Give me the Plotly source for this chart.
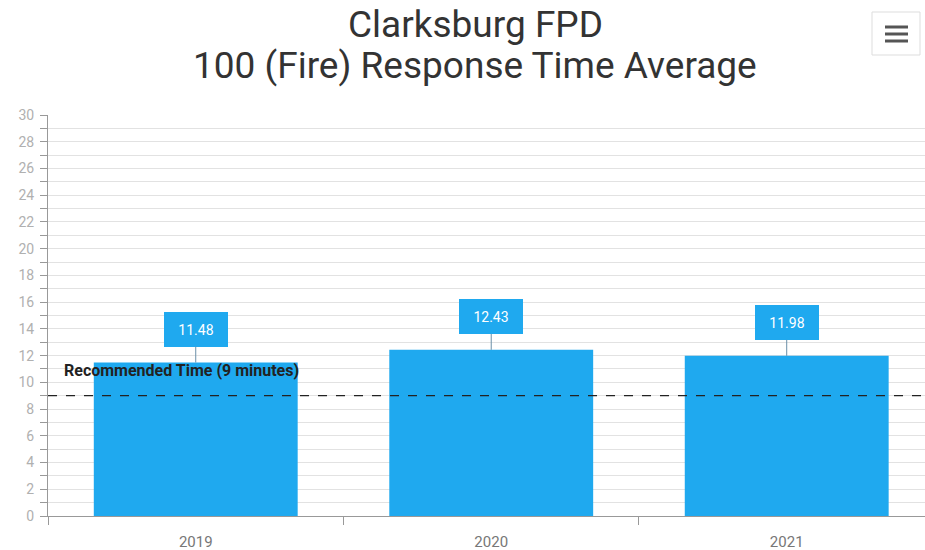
import plotly.graph_objects as go

years = ["2019", "2020", "2021"]
avg_time = [11.48, 12.43, 11.98]
recommended = 9
title_lines = ["Clarksburg FPD", "100 (Fire) Response Time Average"]
rec_label = "Recommended Time (9 minutes)"

BAR = "#1fa9ef"
L, R, T, B, W, H = 48, 0, 115, 34, 925, 550
PW, PH = W - L - R, H - T - B

def px(x):
    return (x - L) / PW

def py(y):
    return (H - B - y) / PH

fig = go.Figure()
fig.add_trace(go.Bar(x=years, y=avg_time, marker=dict(color=BAR, line=dict(width=0)),
                     width=0.69, hoverinfo="x+y"))

for i, v in enumerate(avg_time):
    fig.add_annotation(x=i, y=v, text=f"{v:.2f}", showarrow=True, arrowhead=0,
                       arrowwidth=1, arrowcolor="#6a8fa8", ax=0, ay=-33,
                       bgcolor=BAR, bordercolor=BAR, borderwidth=1, borderpad=3,
                       width=56, height=27,
                       font=dict(family="Roboto", size=14, color="white"))

fig.add_shape(type="line", xref="paper", x0=0, x1=1, yref="y", y0=recommended, y1=recommended,
              line=dict(color="#222", width=1.3, dash="dash"))
fig.add_annotation(xref="paper", x=px(62), xanchor="left", yref="y", y=10.85, yanchor="middle",
                   text=rec_label, showarrow=False,
                   font=dict(family="Roboto", size=16, color="#222", weight="bold"))

# title as two lines
fig.add_annotation(xref="paper", yref="paper", x=px(475), y=py(24), xanchor="center", yanchor="middle",
                   text=title_lines[0], showarrow=False,
                   font=dict(family="Roboto", size=37, color="#333"))
fig.add_annotation(xref="paper", yref="paper", x=px(475), y=py(66), xanchor="center", yanchor="middle",
                   text=title_lines[1], showarrow=False,
                   font=dict(family="Roboto", size=37, color="#333"))

# menu button
fig.add_shape(type="rect", xref="paper", yref="paper", x0=px(872), x1=px(920),
              y0=py(12), y1=py(55), line=dict(color="#dddddd", width=1),
              fillcolor="white", layer="above")
for yy in [27, 34, 41]:
    fig.add_shape(type="line", xref="paper", yref="paper", x0=px(885), x1=px(908),
                  y0=py(yy), y1=py(yy), line=dict(color="#555", width=3))

fig.update_layout(
    width=W, height=H, autosize=False,
    margin=dict(l=L, r=R, t=T, b=B),
    paper_bgcolor="white", plot_bgcolor="white",
    showlegend=False,
    xaxis=dict(type="category", range=[-0.5, 2.468], showgrid=False,
               showline=True, linecolor="#999", linewidth=1,
               ticks="outside", tickson="boundaries", ticklen=8, tickcolor="#999",
               ticklabelstandoff=12,
               tickfont=dict(family="Roboto", size=15, color="#777")),
    yaxis=dict(range=[0, 30], dtick=2, tick0=0, showgrid=True, gridcolor="#e2e2e2", gridwidth=1,
               showline=True, linecolor="#999", linewidth=1,
               ticks="outside", ticklen=7, tickcolor="#999",
               ticklabelstandoff=3,
               minor=dict(dtick=1, ticks="outside", ticklen=7, tickcolor="#999",
                          showgrid=True, gridcolor="#e2e2e2"),
               zeroline=False,
               tickfont=dict(family="Roboto", size=14, color="#b0b0b0")),
)

fig.write_html("out.html", config={"displayModeBar": False},
               post_script="document.body.style.margin='0';document.body.style.padding='0';")
